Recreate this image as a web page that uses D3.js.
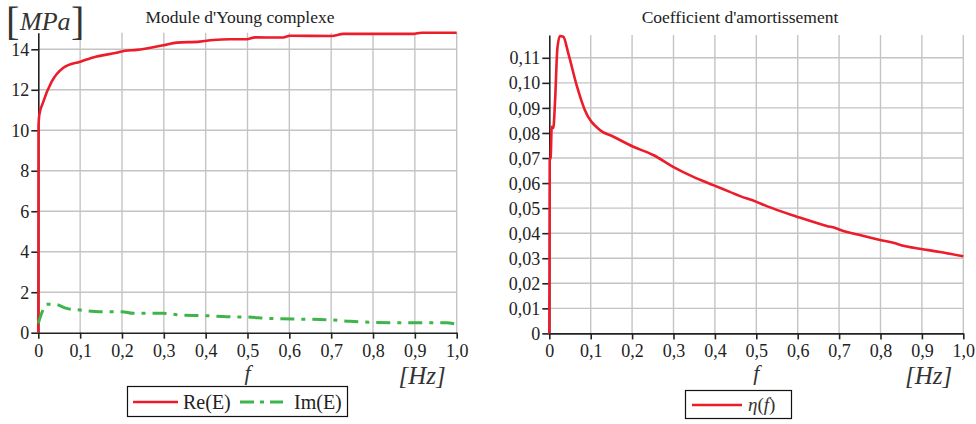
<!DOCTYPE html>
<html><head><meta charset="utf-8">
<script src="https://cdn.jsdelivr.net/npm/d3@7"></script>
<style>
body{margin:0;background:#fff;}
svg{display:block;}
svg text{font-family:"Liberation Serif","Times New Roman",serif !important;}
</style></head>
<body>
<svg id="c" width="976" height="424"></svg>
<script>
// ---- data ----
const xTicks = [0,0.1,0.2,0.3,0.4,0.5,0.6,0.7,0.8,0.9,1.0];
const xTickLabels = ["0","0,1","0,2","0,3","0,4","0,5","0,6","0,7","0,8","0,9","1,0"];
const yTicksE = [0,2,4,6,8,10,12,14];
const yTickLabelsE = ["0","2","4","6","8","10","12","14"];
const yTicksEta = [0,0.01,0.02,0.03,0.04,0.05,0.06,0.07,0.08,0.09,0.10,0.11];
const yTickLabelsEta = ["0","0,01","0,02","0,03","0,04","0,05","0,06","0,07","0,08","0,09","0,10","0,11"];

const freqRe = [0,0.0005,0.0024,0.0105,0.032,0.06,0.1,0.131,0.187,0.207,0.235,0.299,0.331,0.386,0.418,0.458,0.498,0.518,0.582,0.602,0.701,0.729,0.896,0.916,1.0];
const reE    = [0,10.2,10.76,11.33,12.4,13.09,13.39,13.6,13.83,13.93,13.97,14.2,14.33,14.38,14.46,14.5,14.5,14.59,14.58,14.67,14.66,14.76,14.76,14.82,14.82];

const freqIm = [0,0.008,0.02,0.04,0.068,0.1,0.147,0.2,0.227,0.3,0.339,0.402,0.45,0.502,0.546,0.705,0.745,0.864,0.975,1.0];
const imE    = [0.46,0.96,1.40,1.40,1.2,1.12,1.04,1.04,0.96,0.96,0.87,0.84,0.79,0.77,0.71,0.63,0.56,0.49,0.49,0.41];

const freqEta = [0,0.001,0.0034,0.0058,0.0097,0.014,0.0195,0.0258,0.0338,0.0459,0.066,0.086,0.122,0.155,0.203,0.251,0.299,0.348,0.396,0.436,0.461,0.499,0.525,0.598,0.670,0.694,0.710,0.734,0.799,0.831,0.855,0.895,0.944,1.0];
const eta     = [0,0.069,0.0705,0.0825,0.082,0.0931,0.1138,0.1187,0.1184,0.1118,0.0991,0.0891,0.0812,0.0785,0.0745,0.0712,0.0665,0.0625,0.0592,0.0565,0.0548,0.0526,0.0508,0.0466,0.0429,0.0419,0.0409,0.0399,0.0373,0.0362,0.035,0.0338,0.0325,0.0308];

// ---- drawing ----
const svg = d3.select("#c");
const RED = "#ec1c2a", GREEN = "#3db54a", GRID = "#c4c4c4", AXIS = "#222";
const SERIF = "'Liberation Serif','Times New Roman',serif";

function panel(opt){
  const g = svg.append("g");
  const x = d3.scaleLinear().domain([0,1]).range(opt.xr);
  const y = d3.scaleLinear().domain([0,opt.ymax]).range(opt.yr);
  // grid
  g.append("g").selectAll("line").data(xTicks.slice(1)).join("line")
    .attr("x1",d=>x(d)).attr("x2",d=>x(d)).attr("y1",opt.yr[0]).attr("y2",opt.yr[1])
    .attr("stroke",GRID).attr("stroke-width",1.4);
  g.append("g").selectAll("line").data(opt.yTicks.slice(1)).join("line")
    .attr("x1",opt.xr[0]).attr("x2",opt.xr[1]).attr("y1",d=>y(d)).attr("y2",d=>y(d))
    .attr("stroke",GRID).attr("stroke-width",1.4);
  // axes
  const ax = g.append("g").attr("transform",`translate(0,${opt.yr[0]})`)
    .call(d3.axisBottom(x).tickValues(xTicks).tickFormat((d,i)=>xTickLabels[i]).tickSize(6).tickSizeOuter(0).tickPadding(4));
  const ay = g.append("g").attr("transform",`translate(${opt.xr[0]},0)`)
    .call(d3.axisLeft(y).tickValues(opt.yTicks).tickFormat((d,i)=>opt.yLabels[i]).tickSize(7).tickSizeOuter(0).tickPadding(2));
  [ax,ay].forEach(a=>{
    a.attr("font-family",SERIF).attr("font-size",18);
    a.selectAll("path,line").attr("stroke",AXIS).attr("stroke-width",1.6);
    a.selectAll("text").style("font-family",SERIF).attr("font-size",18).attr("fill","#222");
  });
  ay.selectAll("text").attr("dy","0.34em");
  ax.selectAll("text").attr("dy","0.78em");
  // title
  g.append("text").attr("x",opt.titleX).attr("y",23).attr("text-anchor","middle")
    .attr("font-size",17.5).attr("fill","#222").text(opt.title);
  // f and [Hz]
  g.append("text").attr("x",(opt.xr[0]+opt.xr[1])/2).attr("y",380).attr("text-anchor","middle")
    .attr("font-style","italic").attr("font-size",22).attr("fill","#333").text("f");
  g.append("text").attr("x",opt.xr[1]-11).attr("y",384).attr("text-anchor","end")
    .attr("font-style","italic").attr("font-size",25).attr("fill","#333").text("[Hz]");
  return {g,x,y};
}

const L = panel({xr:[38.3,456.7], yr:[332.7,32.7], ymax:14.82, yTicks:yTicksE, yLabels:yTickLabelsE,
  title:"Module d'Young complexe", titleX:240});
const R = panel({xr:[549.3,963.3], yr:[333.4,35], ymax:0.1191, yTicks:yTicksEta, yLabels:yTickLabelsEta,
  title:"Coefficient d'amortissement", titleX:740});

// [MPa]
const mpa = svg.append("g").attr("fill","#333");
mpa.append("text").attr("x",6).attr("y",35).attr("font-size",40).text("[");
mpa.append("text").attr("x",20).attr("y",30).attr("font-size",26).attr("font-style","italic").text("MPa");
mpa.append("text").attr("x",71).attr("y",35).attr("font-size",40).text("]");

// curves
const lineRe = d3.line().x((d,i)=>L.x(freqRe[i])).y(d=>L.y(d)).curve(d3.curveMonotoneX);
L.g.append("path").attr("d",lineRe(reE)).attr("fill","none").attr("stroke",RED).attr("stroke-width",2.6);
const lineIm = d3.line().x((d,i)=>L.x(freqIm[i])).y(d=>L.y(d)).curve(d3.curveMonotoneX);
L.g.append("path").attr("d",lineIm(imE)).attr("fill","none").attr("stroke",GREEN).attr("stroke-width",3)
  .attr("stroke-dasharray","14,7,4,7");
const lineEta = d3.line().x((d,i)=>R.x(freqEta[i])).y(d=>R.y(d)).curve(d3.curveMonotoneX);
R.g.append("path").attr("d",lineEta(eta)).attr("fill","none").attr("stroke",RED).attr("stroke-width",2.6);

// legends
const lg1 = svg.append("g");
lg1.append("rect").attr("x",127.5).attr("y",386.5).attr("width",220).attr("height",30).attr("fill","#fff").attr("stroke","#111").attr("stroke-width",1.2);
lg1.append("line").attr("x1",133).attr("x2",178).attr("y1",402).attr("y2",402).attr("stroke",RED).attr("stroke-width",2.6);
lg1.append("text").attr("x",183).attr("y",409).attr("font-size",20).attr("fill","#222").text("Re(E)");
lg1.append("line").attr("x1",240).attr("x2",283).attr("y1",402).attr("y2",402).attr("stroke",GREEN).attr("stroke-width",3).attr("stroke-dasharray","14,6,4,6");
lg1.append("text").attr("x",294).attr("y",409).attr("font-size",20).attr("fill","#222").text("Im(E)");

const lg2 = svg.append("g");
lg2.append("rect").attr("x",685.5).attr("y",390.5).attr("width",106).attr("height",28).attr("fill","#fff").attr("stroke","#111").attr("stroke-width",1.2);
lg2.append("line").attr("x1",692).attr("x2",742).attr("y1",405).attr("y2",405).attr("stroke",RED).attr("stroke-width",2.6);
const t2 = lg2.append("text").attr("x",748).attr("y",411).attr("font-size",19).attr("fill","#333");
t2.append("tspan").attr("font-style","italic").text("η");
t2.append("tspan").text("(");
t2.append("tspan").attr("font-style","italic").text("f");
t2.append("tspan").text(")");
</script>
</body></html>
